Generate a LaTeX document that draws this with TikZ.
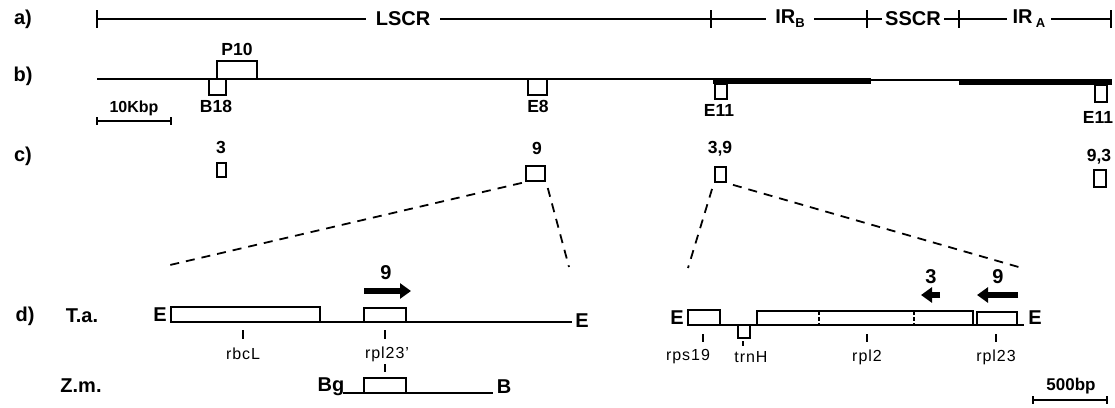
\documentclass[tikz,border=0pt]{standalone}
\usepackage{fontspec}
\setmainfont{Liberation Sans}
\usetikzlibrary{arrows.meta}
\begin{document}
\begin{tikzpicture}[x=1pt,y=-1pt,
  lab/.style={font=\fontsize{20}{20}\selectfont\bfseries, inner sep=0pt},
  mid/.style={font=\fontsize{17.5}{17.5}\selectfont\bfseries, inner sep=0pt},
  sml/.style={font=\fontsize{16}{16}\selectfont\addfontfeature{LetterSpace=6}, inner sep=0pt},
  ln/.style={line width=2pt},
  bx/.style={draw, line width=2.4pt, fill=white, inner sep=0pt, rectangle},
  thk/.style={line width=6.5pt},
  dsh/.style={line width=1.8pt, dash pattern=on 9pt off 7pt},
  tk/.style={line width=1.6pt},
  arr/.style={line width=6pt, -{Triangle[length=11pt,width=15pt]}},
]
\useasboundingbox (0,0) rectangle (1115,407);

% ---------- row a ----------
\node[lab] (la) at (23,19) {a)};
\draw[ln] (97,19) -- (1111,19);
\foreach \x in {97,711,867,959,1111} \draw[ln] (\x,10) -- (\x,28);
\node[lab, fill=white, inner xsep=10pt, inner ysep=2pt] (lscr) at (403,19) {LSCR};
\node[lab, fill=white, inner xsep=9pt, inner ysep=2pt] (irb) at (790,19) {IR{\fontsize{13}{13}\selectfont\raisebox{-4pt}{B}}};
\node[lab, fill=white, inner xsep=3pt, inner ysep=2pt] (sscr) at (913,19) {SSCR};
\node[lab, fill=white, inner xsep=6pt, inner ysep=2pt] (ira) at (1029,19) {IR\,{\fontsize{13}{13}\selectfont\raisebox{-4pt}{A}}};

% ---------- row b ----------
\node[lab] (lb) at (23,76) {b)};
\draw[ln] (97,79) -- (713,79);
\draw[thk] (713,81) -- (871,81);
\draw[ln] (871,80) -- (959,80);
\draw[thk] (959,82) -- (1112,82);
\node[bx, minimum width=40pt, minimum height=18pt] (p10) at (237,70) {};
\node[mid] (p10l) at (237,49) {P10};
\node[bx, minimum width=17pt, minimum height=16pt] (b18) at (217.5,87) {};
\node[mid] (b18l) at (216,106) {B18};
\node[bx, minimum width=19pt, minimum height=16pt] (e8) at (537.5,87) {};
\node[mid] (e8l) at (538,106) {E8};
\node[bx, minimum width=12pt, minimum height=15pt] (e11) at (721,91.5) {};
\node[mid] (e11l) at (719,110) {E11};
\node[bx, minimum width=12pt, minimum height=17pt] (e11r) at (1101,93.5) {};
\node[mid] (e11rl) at (1098,117) {E11};
% scale 10 kbp
\coordinate (kb1) at (97,121);
\coordinate (kb2) at (171,121);
\draw[tk] (kb1) -- (kb2);
\draw[tk] (97,117) -- (97,125) (171,117) -- (171,125);
\node[font=\fontsize{16}{16}\selectfont\bfseries, inner sep=0pt] (kbl) at (134,108) {10Kbp};

% ---------- row c ----------
\node[lab] (lc) at (23,156) {c)};
\node[mid] (c3l) at (221,147) {3};
\node[bx, minimum width=9pt, minimum height=14pt] (c3) at (221.5,170) {};
\node[mid] (c9l) at (537,148) {9};
\node[bx, minimum width=19pt, minimum height=15pt] (c9) at (535.5,173.5) {};
\node[mid] (c39l) at (720,149) {3,9};
\node[bx, minimum width=11pt, minimum height=15pt] (c39) at (720.5,174.5) {};
\node[mid] (c93l) at (1099,157) {9,3};
\node[bx, minimum width=12pt, minimum height=17pt] (c93) at (1100,178.5) {};

\coordinate (dl1) at (170,265);
\coordinate (dl2) at (569,267);
\coordinate (dr1) at (688,268);
\coordinate (dr2) at (1022,268);
\draw[dsh, shorten <=3pt] (c9.south west) -- (dl1);
\draw[dsh, shorten <=6pt] (c9.south east) -- (dl2);
\draw[dsh, shorten <=6pt] (c39.south west) -- (dr1);
\draw[dsh, shorten <=6pt] (c39.south east) -- (dr2);

% ---------- row d left ----------
\node[lab] (ld) at (25,316) {d)};
\node[lab] (ta) at (82,316) {T.a.};
\node[lab] (ta1) at (160,315) {E};
\coordinate (tal) at (171,322);
\coordinate (tar) at (572,322);
\draw[ln] (tal) -- (tar);
\node[lab] (ta2) at (582,321) {E};
\node[bx, minimum width=149pt, minimum height=15pt] (rbcl) at (245.5,314.5) {};
\node[bx, minimum width=42pt, minimum height=14pt] (rpl23p) at (385,315) {};
\coordinate (a9s) at (364,291);
\coordinate (a9e) at (411,291);
\draw[arr] (a9s) -- (a9e);
\node[lab] (a9l) at (386,273) {9};
\draw[tk] (243,330) -- (243,339);
\node[sml] (rbcll) at (243,354) {rbcL};
\draw[tk] (385,330) -- (385,339);
\node[sml] (rpl23pl) at (387,354) {rpl23’};
\draw[tk] (385,364) -- (385,372);

\node[lab] (zm) at (81,386) {Z.m.};
\node[lab] (bg) at (331,387) {Bg};
\coordinate (zml) at (343,393);
\coordinate (zmr) at (493,393);
\draw[ln] (zml) -- (zmr);
\node[lab] (bb) at (504,387) {B};
\node[bx, minimum width=42pt, minimum height=15pt] (zmbox) at (385,385.5) {};

% ---------- row d right ----------
\node[lab] (re1) at (677,318) {E};
\coordinate (rl) at (688,325);
\coordinate (rr) at (1024,325);
\draw[ln] (rl) -- (rr);
\node[lab] (re2) at (1035,318) {E};
\node[bx, minimum width=32pt, minimum height=15pt] (rps19) at (704,317.5) {};
\node[bx, minimum width=12pt, minimum height=13pt] (trnh) at (744,331.5) {};
\node[bx, minimum width=216pt, minimum height=14pt] (rpl2) at (865,318) {};
\node[bx, minimum width=40pt, minimum height=13pt] (rpl23) at (997,318.5) {};
\draw[line width=2pt, dash pattern=on 4pt off 2pt] (819,311) -- (819,325) (914,311) -- (914,325);
\draw[tk] (703,334) -- (703,342);
\draw[tk] (743,341) -- (743,346);
\draw[tk] (867,334) -- (867,342);
\draw[tk] (996,334) -- (996,342);
\node[sml] (rps19l) at (688,357) {rps19};
\node[sml] (trnhl) at (751,357) {trnH};
\node[sml] (rpl2l) at (867,357) {rpl2};
\node[sml] (rpl23l) at (996,357) {rpl23};
\coordinate (a3s) at (940,295);
\coordinate (a3e) at (921,295);
\draw[arr] (a3s) -- (a3e);
\node[lab] (a3l) at (931,277) {3};
\coordinate (b9s) at (1018,295);
\coordinate (b9e) at (977,295);
\draw[arr] (b9s) -- (b9e);
\node[lab] (b9l) at (998,277) {9};
% scale 500 bp
\coordinate (bp1) at (1033,400);
\coordinate (bp2) at (1107,400);
\draw[tk] (bp1) -- (bp2);
\draw[tk] (1033,396) -- (1033,404) (1107,396) -- (1107,404);
\node[font=\fontsize{17}{17}\selectfont\bfseries, inner sep=0pt] (bpl) at (1071,386) {500bp};
\end{tikzpicture}
\end{document}
